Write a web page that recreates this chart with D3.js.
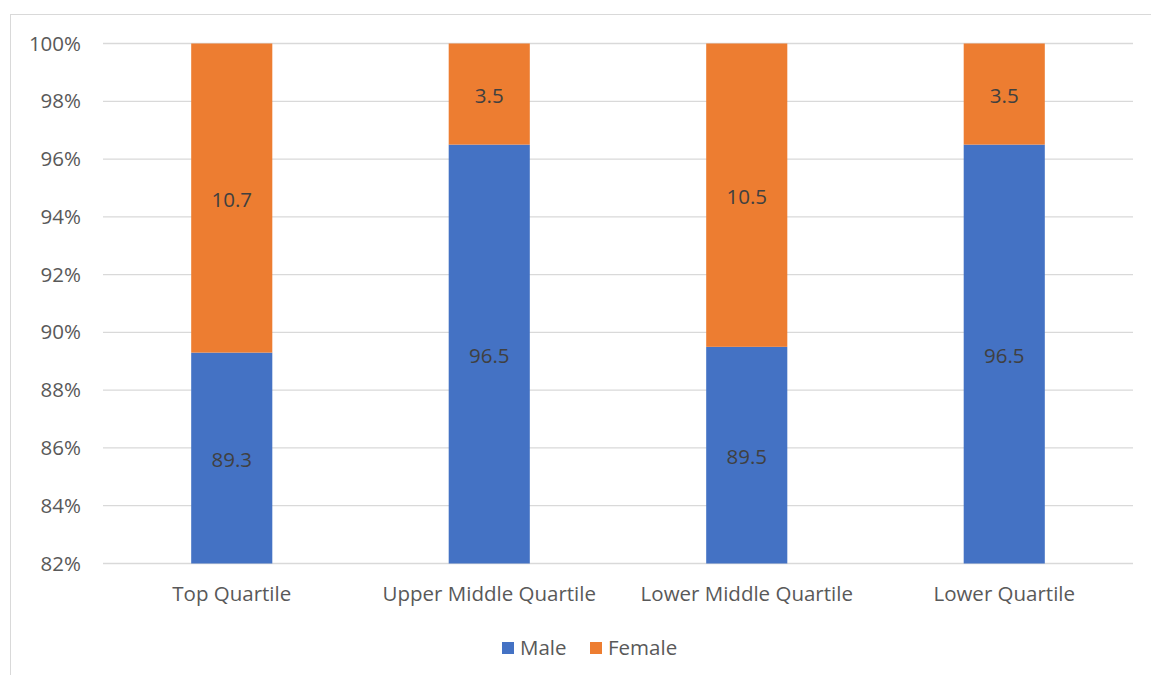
<!DOCTYPE html>
<html>
<head>
<meta charset="utf-8">
<script src="https://cdn.jsdelivr.net/npm/d3@7"></script>
<style>
  body { margin: 0; background: #fff; }
  text { font-family: "Open Sans", "Liberation Sans", sans-serif; fill: #595959; }
</style>
</head>
<body>
<div id="chart"></div>
<script>
const categories = ["Top Quartile", "Upper Middle Quartile", "Lower Middle Quartile", "Lower Quartile"]
const male = [89.3, 96.5, 89.5, 96.5]
const female = [10.7, 3.5, 10.5, 3.5]
const yTicks = [82, 84, 86, 88, 90, 92, 94, 96, 98, 100]
const seriesNames = ["Male", "Female"]
const colors = ["#4472c4", "#ed7d31"]

const width = 1151, height = 675
const margin = { left: 103, right: 18, top: 43.5, bottom: 111.5 }
const fontSize = 20.5

const svg = d3.select("#chart").append("svg")
    .attr("width", width)
    .attr("height", height)

// outer chart border
svg.append("rect")
    .attr("x", 10.5).attr("y", 14.5)
    .attr("width", width + 10).attr("height", height + 10)
    .attr("fill", "none")
    .attr("stroke", "#d9d9d9")

let xScale = d3.scaleBand()
    .domain(categories)
    .range([margin.left, width - margin.right])
    .paddingInner(0.685)
    .paddingOuter(0.3425)

let yScale = d3.scaleLinear()
    .domain([82, 100])
    .range([height - margin.bottom, margin.top])

// gridlines
svg.append("g")
    .selectAll("line")
    .data(yTicks)
    .join("line")
    .attr("x1", margin.left)
    .attr("x2", width - margin.right)
    .attr("y1", d => yScale(d))
    .attr("y2", d => yScale(d))
    .attr("stroke", "#d9d9d9")
    .attr("stroke-width", 1.3)

let yAxis = d3.axisLeft(yScale)
    .tickValues(yTicks)
    .tickFormat(d => d + "%")
    .tickSize(0)
    .tickPadding(22)

const yG = svg.append("g")
    .attr("transform", "translate(" + margin.left + ",0)")
    .call(yAxis)
yG.select(".domain").remove()
yG.selectAll("text").attr("font-size", fontSize).style("fill", "#595959")

let xAxis = d3.axisBottom(xScale)
    .tickSize(0)
    .tickPadding(23)

const xG = svg.append("g")
    .attr("transform", "translate(0," + (height - margin.bottom) + ")")
    .call(xAxis)
xG.select(".domain").remove()
xG.selectAll("text").attr("font-size", fontSize).style("fill", "#595959")

// stacked bars, clipped to the axis range
const rows = categories.map((c, i) => ({ cat: c, Male: male[i], Female: female[i] }))
const stacked = d3.stack().keys(seriesNames)(rows)

stacked.forEach((layer, li) => {
    const g = svg.append("g")
    g.selectAll("rect")
        .data(layer)
        .join("rect")
        .attr("x", d => xScale(d.data.cat))
        .attr("width", xScale.bandwidth())
        .attr("y", d => yScale(Math.min(d[1], 100)))
        .attr("height", d => yScale(Math.max(d[0], 82)) - yScale(Math.min(d[1], 100)))
        .attr("fill", colors[li])

    g.selectAll("text")
        .data(layer)
        .join("text")
        .attr("x", d => xScale(d.data.cat) + xScale.bandwidth() / 2)
        .attr("y", d => yScale((Math.max(d[0], 82) + Math.min(d[1], 100)) / 2))
        .attr("dy", "0.45em")
        .attr("text-anchor", "middle")
        .attr("font-size", fontSize)
        .style("fill", "#404040")
        .text(d => d.data[seriesNames[li]])
})

// legend
const legend = svg.append("g").attr("transform", "translate(502,648)")
const legendX = [0, 88]
seriesNames.forEach((name, i) => {
    legend.append("rect")
        .attr("x", legendX[i]).attr("y", -6)
        .attr("width", 12).attr("height", 12)
        .attr("fill", colors[i])
    legend.append("text")
        .attr("x", legendX[i] + 18).attr("y", 0)
        .attr("dy", "0.35em")
        .attr("font-size", fontSize)
        .text(name)
})
</script>
</body>
</html>
